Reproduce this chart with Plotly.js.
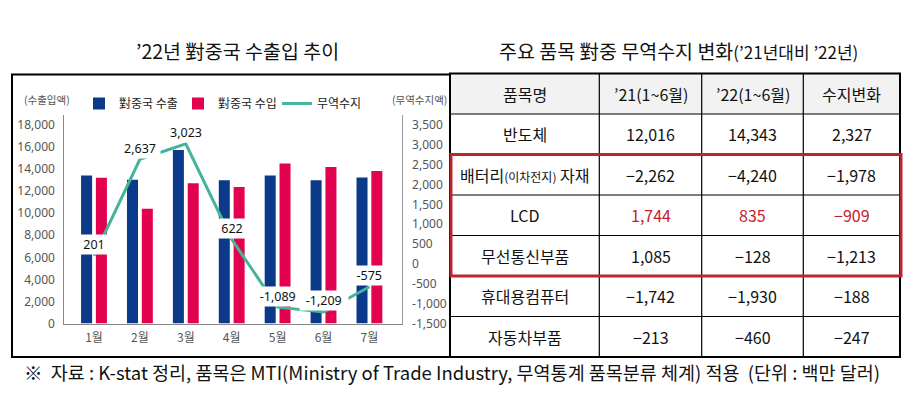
<!DOCTYPE html>
<html><head><meta charset="utf-8">
<script src="https://cdn.plot.ly/plotly-3.0.1.min.js"></script>
<style>html,body{margin:0;padding:0;background:#fff}#c{width:912px;height:394px}</style>
</head><body><div id="c"></div>
<script>
// ---- data ----
const months = ['1월','2월','3월','4월','5월','6월','7월'];
const exportsCN = [13420, 13040, 15740, 13000, 13430, 12990, 13250];
const importsCN = [13220, 10400, 12720, 12380, 14520, 14200, 13830];
const balance = [201, 2637, 3023, 622, -1089, -1209, -575];
const leftTicks = [0,2000,4000,6000,8000,10000,12000,14000,16000,18000];
const rightTicks = [-1500,-1000,-500,0,500,1000,1500,2000,2500,3000,3500];

const tblHeader = ['품목명', '’21(1~6월)', '’22(1~6월)', '수지변화'];
const items = ['반도체', '배터리<span style="font-size:12px">(이차전지)</span> 자재', 'LCD', '무선통신부품', '휴대용컴퓨터', '자동차부품'];
const val21 = [12016, -2262, 1744, 1085, -1742, -213];
const val22 = [14343, -4240, 835, -128, -1930, -460];
const change = [2327, -1978, -909, -1213, -188, -247];
const highlightRows = ['배터리', 'LCD', '무선통신부품']; // rows boxed in red
const redTextRow = 'LCD';

// ---- helpers ----
const W = 912, H = 394;
const px = x => x / W, py = y => 1 - y / H;
const fmt = v => (v < 0 ? '−' : '') + Math.abs(v).toLocaleString('en-US');
const fmtPlain = v => v.toLocaleString('en-US');
const KR = '"Noto Sans CJK KR", "Noto Sans", sans-serif';

const NAVY = '#0b3a8a', RED = '#e3024f', TEAL = '#45b49a';
const redRowColor = '#c8202b';

const traces = [
  {type:'bar', name:'對중국 수출', x:months, y:exportsCN, marker:{color:NAVY}, xaxis:'x', yaxis:'y', hoverinfo:'skip'},
  {type:'bar', name:'對중국 수입', x:months, y:importsCN, marker:{color:RED}, xaxis:'x', yaxis:'y', hoverinfo:'skip'},
  {type:'scatter', mode:'lines', name:'무역수지', x:months, y:balance, line:{color:TEAL, width:3}, xaxis:'x', yaxis:'y2', hoverinfo:'skip'}
];

// ---- table geometry (style) ----
const tX = [450, 599.3, 701.7, 803.3, 900];
const tTop = 73.5, tBot = 357, nRows = items.length + 1;
const rowH = (tBot - tTop) / nRows;
const rowY = r => tTop + r * rowH;

const shapes = [];
const annotations = [];

// header fill
shapes.push({type:'rect', xref:'paper', yref:'paper', x0:px(tX[0]), x1:px(tX[4]), y0:py(rowY(1)), y1:py(tTop),
             fillcolor:'#f2f2f2', line:{width:0}, layer:'below'});
// inner horizontal lines
for (let r = 1; r < nRows; r++) {
  shapes.push({type:'line', xref:'paper', yref:'paper', x0:px(tX[0]), x1:px(tX[4]), y0:py(rowY(r)), y1:py(rowY(r)),
               line:{color:'#000', width:1.2}});
}
// inner vertical lines
for (let c = 1; c < tX.length - 1; c++) {
  shapes.push({type:'line', xref:'paper', yref:'paper', x0:px(tX[c]), x1:px(tX[c]), y0:py(tBot), y1:py(tTop),
               line:{color:'#000', width:1.2}});
}
// outer boxes
shapes.push({type:'rect', xref:'paper', yref:'paper', x0:px(12), x1:px(450), y0:py(357), y1:py(74.5), line:{color:'#000', width:2}});
shapes.push({type:'rect', xref:'paper', yref:'paper', x0:px(tX[0]), x1:px(tX[4]), y0:py(tBot), y1:py(tTop), line:{color:'#000', width:2}});
// red highlight box around boxed rows
const hiIdx = items.map((n,i)=> highlightRows.some(h=> n.startsWith(h)) ? i : -1).filter(i=> i>=0);
const hiTop = rowY(1 + Math.min(...hiIdx)), hiBot = rowY(2 + Math.max(...hiIdx));
shapes.push({type:'rect', xref:'paper', yref:'paper', x0:px(451), x1:px(901), y0:py(hiBot), y1:py(hiTop),
             line:{color:'#b8262e', width:3}});

// table text
const colVals = [items, val21.map(fmt), val22.map(fmt), change.map(fmt)];
tblHeader.forEach((h, c) => {
  annotations.push({xref:'paper', yref:'paper', x:px((tX[c]+tX[c+1])/2), y:py((rowY(0)+rowY(1))/2),
    xanchor:'center', yanchor:'middle', showarrow:false, text:h,
    font:{family:KR, size:16, color:'#111'}});
});
colVals.forEach((col, c) => {
  col.forEach((t, r) => {
    const isRed = c > 0 && items[r] === redTextRow;
    annotations.push({xref:'paper', yref:'paper', x:px((tX[c]+tX[c+1])/2), y:py((rowY(r+1)+rowY(r+2))/2),
      xanchor:'center', yanchor:'middle', showarrow:false, text:t,
      font:{family:KR, size:16, color: isRed ? redRowColor : '#111'}});
  });
});

// line value labels
balance.forEach((v,i)=> annotations.push({
  xref:'x', yref:'y2', x:months[i], y:v, yshift:11, xanchor:'center', yanchor:'middle',
  text:fmtPlain(v), showarrow:false, bgcolor:'#fff', borderpad:1,
  width: Math.max(30, fmtPlain(v).length*7.6),
  font:{family:'"Noto Sans", sans-serif', size:12.5, color:'#111'}
}));

// titles, axis captions, footnote
annotations.push(
  {xref:'paper', yref:'paper', x:px(237), y:py(50), xanchor:'center', yanchor:'middle', text:'’22년 對중국 수출입 추이', showarrow:false,
   font:{family:KR, size:19.5, color:'#111'}},
  {xref:'paper', yref:'paper', x:px(678), y:py(50), xanchor:'center', yanchor:'middle', text:'주요 품목 對중 무역수지 변화<span style="font-size:17px">(’21년대비 ’22년)</span>', showarrow:false,
   font:{family:KR, size:19.5, color:'#111'}},
  {xref:'paper', yref:'paper', x:px(22), y:py(99.5), xanchor:'left', yanchor:'middle', text:'(수출입액)', showarrow:false,
   font:{family:KR, size:10.5, color:'#555'}},
  {xref:'paper', yref:'paper', x:px(390), y:py(99.5), xanchor:'left', yanchor:'middle', text:'(무역수지액)', showarrow:false,
   font:{family:KR, size:10.5, color:'#555'}},
  {xref:'paper', yref:'paper', x:px(22), y:py(372), xanchor:'left', yanchor:'middle', text:'※  자료 : K-stat 정리, 품목은 MTI(Ministry of Trade Industry, 무역통계 품목분류 체계) 적용  (단위 : 백만 달러)', showarrow:false,
   font:{family:KR, size:18.5, color:'#111'}}
);

const layout = {
  width:W, height:H, margin:{l:0,r:0,t:0,b:0},
  paper_bgcolor:'#fff', plot_bgcolor:'rgba(0,0,0,0)',
  showlegend:true,
  legend:{orientation:'h', x:px(79), y:py(89), xanchor:'left', yanchor:'top',
          font:{family:KR, size:12, color:'#222'}, bgcolor:'rgba(0,0,0,0)', itemwidth:30,
          entrywidth:54, entrywidthmode:'pixels'},
  barmode:'group', bargap:0.354, bargroupgap:0.257,
  xaxis:{domain:[px(64.3), px(401.7)], type:'category', range:[-0.647, 6.703],
         showline:true, linecolor:'#8a8a8a', linewidth:1, ticks:'', showgrid:false, zeroline:false,
         tickfont:{family:KR, size:12, color:'#555'}, ticklabelstandoff:3},
  yaxis:{domain:[py(323.5), py(115)], range:[0, 18907], tickvals:leftTicks,
         ticktext:leftTicks.map(fmtPlain), showline:true, linecolor:'#8a8a8a', linewidth:1,
         showgrid:false, zeroline:false, ticks:'', ticklabelstandoff:6,
         tickfont:{family:'"Noto Sans", sans-serif', size:12, color:'#555'}},
  yaxis2:{overlaying:'y', side:'right', range:[-1500, 3752], tickvals:rightTicks,
         ticktext:rightTicks.map(fmtPlain), showline:true, linecolor:'#9a9a9a', linewidth:1,
         showgrid:false, zeroline:false, ticks:'', ticklabelstandoff:7,
         tickfont:{family:'"Noto Sans", sans-serif', size:12, color:'#555'}},
  shapes: shapes,
  annotations: annotations
};

Plotly.newPlot('c', traces, layout, {displayModeBar:false, staticPlot:true});
</script></body></html>
